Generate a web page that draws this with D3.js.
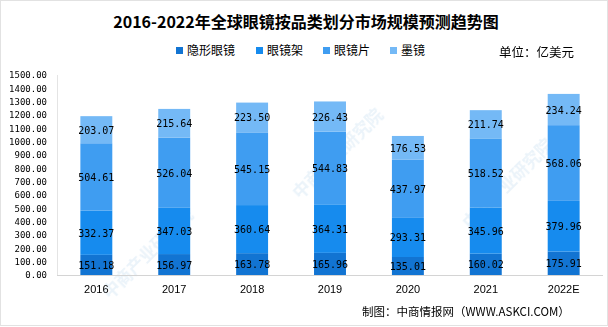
<!DOCTYPE html>
<html>
<head>
<meta charset="utf-8">
<script src="https://cdn.jsdelivr.net/npm/d3@7/dist/d3.min.js"></script>
<style>
  body { margin: 0; background: #fff; }
  svg { display: block; }
</style>
</head>
<body>
<div id="chart"></div>
<script>
// data
const years = ["2016", "2017", "2018", "2019", "2020", "2021", "2022E"];
const seriesNames = ["隐形眼镜", "眼镜架", "眼镜片", "墨镜"];
const contactLens = [151.18, 156.97, 163.78, 165.96, 135.01, 160.02, 175.91];
const frames = [332.37, 347.03, 360.64, 364.31, 293.31, 345.96, 379.96];
const lenses = [504.61, 526.04, 545.15, 544.83, 437.97, 518.52, 568.06];
const sunglasses = [203.07, 215.64, 223.50, 226.43, 176.53, 211.74, 234.24];
const yTicks = [0, 100, 200, 300, 400, 500, 600, 700, 800, 900, 1000, 1100, 1200, 1300, 1400, 1500];
const colors = ["#1274d2", "#168bee", "#3f9df1", "#74b9f6"];

const W = 608, H = 327;
const margin = {top: 75, right: 5, bottom: 52, left: 57};
const innerW = W - margin.left - margin.right,
      innerH = H - margin.top - margin.bottom;

const svg = d3.select("#chart").append("svg")
    .attr("width", W)
    .attr("height", H);

// outer frame
svg.append("rect")
    .attr("x", 0.5).attr("y", 0.5)
    .attr("width", W - 1).attr("height", H - 2)
    .attr("fill", "none")
    .attr("stroke", "#e2e2e2");

// faint watermarks
const wm = svg.append("g").attr("fill", "#d6e7f4").attr("opacity", 0.5)
    .style("font-family", "Noto Sans CJK SC").style("font-size", "17px")
    .style("font-weight", "bold");
[[110, 300], [300, 200], [470, 230]].forEach(function(p) {
  wm.append("text")
    .attr("transform", "translate(" + p[0] + "," + p[1] + ") rotate(-45)")
    .text("中商产业研究院");
});

const g = svg.append("g")
    .attr("transform", "translate(" + margin.left + "," + margin.top + ")");

const x = d3.scaleBand()
    .domain(years)
    .range([0, 546])
    .paddingInner(0.59)
    .paddingOuter(0.3);

const y = d3.scaleLinear()
    .domain([0, 1500])
    .range([innerH, 0]);

// stack
const rows = years.map(function(yr, i) {
  return {year: yr, s0: contactLens[i], s1: frames[i], s2: lenses[i], s3: sunglasses[i]};
});
const stack = d3.stack().keys(["s0", "s1", "s2", "s3"]);
const layers = stack(rows);

// axes lines
g.append("line")
    .attr("x1", 0).attr("x2", innerW)
    .attr("y1", innerH + 0.5).attr("y2", innerH + 0.5)
    .attr("stroke", "#d4d4d4");
g.append("line")
    .attr("x1", 0.5).attr("x2", 0.5)
    .attr("y1", 0).attr("y2", innerH)
    .attr("stroke", "#e4e4e4");

// y axis labels
const yAxis = d3.axisLeft(y).tickValues(yTicks).tickSize(0).tickPadding(10)
    .tickFormat(d3.format(".2f"));
g.append("g")
    .call(yAxis)
    .call(function(s) { s.select(".domain").remove(); })
    .selectAll("text")
    .style("font-family", "DejaVu Sans Mono")
    .style("font-size", "9px")
    .attr("fill", "#000");

// x axis labels
const xAxis = d3.axisBottom(x).tickSize(0).tickPadding(10);
g.append("g")
    .attr("transform", "translate(0," + innerH + ")")
    .call(xAxis)
    .call(function(s) { s.select(".domain").remove(); })
    .selectAll("text")
    .style("font-family", "Liberation Sans")
    .style("font-size", "11px")
    .attr("fill", "#000");

// bars
const layerG = g.selectAll(".layer")
    .data(layers)
    .enter().append("g")
    .attr("fill", function(d, i) { return colors[i]; });

layerG.selectAll("rect")
    .data(function(d) { return d; })
    .enter().append("rect")
    .attr("x", function(d) { return x(d.data.year); })
    .attr("y", function(d) { return y(d[1]); })
    .attr("width", x.bandwidth())
    .attr("height", function(d) { return y(d[0]) - y(d[1]); });

// value labels
layerG.selectAll("text")
    .data(function(d) { return d; })
    .enter().append("text")
    .attr("x", function(d) { return x(d.data.year) + x.bandwidth() / 2; })
    .attr("y", function(d) { return (y(d[0]) + y(d[1])) / 2 + 4; })
    .attr("text-anchor", "middle")
    .attr("fill", "#000")
    .style("font-family", "DejaVu Sans Mono")
    .style("font-size", "10px")
    .text(function(d) { return (d[1] - d[0]).toFixed(2); });

// title
svg.append("text")
    .attr("x", 306).attr("y", 28)
    .attr("text-anchor", "middle")
    .style("font-family", "Noto Sans CJK SC")
    .style("font-weight", "bold")
    .style("font-size", "16px")
    .text("2016-2022年全球眼镜按品类划分市场规模预测趋势图");

// legend
const legendX = [176, 256, 323, 390];
const legend = svg.selectAll(".legend")
    .data(seriesNames)
    .enter().append("g")
    .attr("transform", function(d, i) { return "translate(" + legendX[i] + ",47)"; });
legend.append("rect")
    .attr("width", 7).attr("height", 7)
    .attr("fill", function(d, i) { return colors[i]; });
legend.append("text")
    .attr("x", 11).attr("y", 8)
    .style("font-family", "Noto Sans CJK SC")
    .style("font-size", "12px")
    .text(function(d) { return d; });

// unit
svg.append("text")
    .attr("x", 499).attr("y", 57)
    .style("font-family", "Noto Sans CJK SC")
    .style("font-size", "12.5px")
    .text("单位：亿美元");

// source
svg.append("text")
    .attr("x", 362).attr("y", 316)
    .style("font-family", "Noto Sans CJK SC")
    .style("font-size", "11.5px")
    .text("制图：中商情报网（WWW.ASKCI.COM）");
</script>
</body>
</html>
